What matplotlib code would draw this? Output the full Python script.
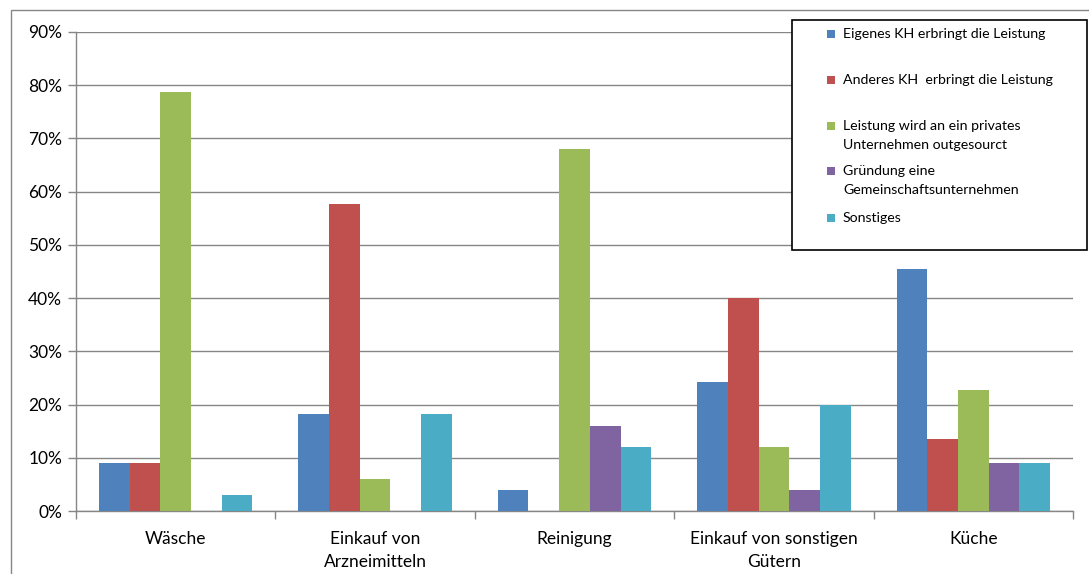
import matplotlib
matplotlib.use("Agg")
import matplotlib.pyplot as plt
from matplotlib.patches import Rectangle
import numpy as np

categories = ["Wäsche", "Einkauf von\nArzneimitteln", "Reinigung",
              "Einkauf von sonstigen\nGütern", "Küche"]
series_labels = [
    "Eigenes KH erbringt die Leistung",
    "Anderes KH  erbringt die Leistung",
    "Leistung wird an ein privates\nUnternehmen outgesourct",
    "Gründung eine\nGemeinschaftsunternehmen",
    "Sonstiges",
]
eigenes = [9.1, 18.2, 4.0, 24.2, 45.5]
anderes = [9.1, 57.6, 0.0, 40.0, 13.6]
privat = [78.8, 6.1, 68.0, 12.0, 22.7]
gemeinschaft = [0.0, 0.0, 16.0, 4.0, 9.1]
sonstiges = [3.0, 18.2, 12.0, 20.0, 9.1]
series_values = [eigenes, anderes, privat, gemeinschaft, sonstiges]
colors = ["#4F81BD", "#C0504D", "#9BBB59", "#8064A2", "#4BACC6"]
yticks = [0, 10, 20, 30, 40, 50, 60, 70, 80, 90]
ytick_labels = [f"{v}%" for v in yticks]

plt.rcParams["font.family"] = ["Lato", "DejaVu Sans"]

W, H = 1089, 574
fig = plt.figure(figsize=(W / 100, H / 100), dpi=100)

def fx(px):
    return px / W

def fy(py):
    return 1 - py / H

ax = fig.add_axes([fx(76), fy(511), fx(1073) - fx(76), fy(32) - fy(511)])

n_series = len(series_values)
bar_w = 1 / 6.5
x = np.arange(len(categories))
for i, (vals, col) in enumerate(zip(series_values, colors)):
    offs = (i - (n_series - 1) / 2) * bar_w
    ax.bar(x + offs, vals, width=bar_w, color=col, zorder=3)

grid_col = "#868686"
ax.set_xlim(-0.5, len(categories) - 0.5)
ax.set_ylim(0, 90)
ax.set_yticks(yticks)
ax.set_yticklabels(ytick_labels, fontsize=12.5, color="#000000")
ax.yaxis.grid(True, color=grid_col, linewidth=1.0, zorder=0)
ax.tick_params(axis="y", length=6, color=grid_col, width=1.0, pad=4)

ax.set_xticks(np.arange(-0.5, len(categories), 1.0))
ax.set_xticklabels([])
ax.tick_params(axis="x", length=6, color=grid_col, width=1.0)
for xi, lab in zip(x, categories):
    ax.text(xi, -3.7, lab, ha="center", va="top", fontsize=12.5,
            linespacing=1.6, transform=ax.transData)

for side in ["top", "right"]:
    ax.spines[side].set_visible(False)
for side in ["left", "bottom"]:
    ax.spines[side].set_color(grid_col)
    ax.spines[side].set_linewidth(1.0)

# outer chart frame
fig.patches.append(Rectangle((fx(11), fy(600)), fx(1100) - fx(11), fy(10) - fy(600),
                             transform=fig.transFigure, fill=False,
                             edgecolor=grid_col, linewidth=1.0))

# legend box
fig.patches.append(Rectangle((fx(792), fy(250)), fx(1087) - fx(792), fy(20) - fy(250),
                             transform=fig.transFigure, facecolor="white",
                             edgecolor="black", linewidth=1.2, zorder=5))
entry_y = [34, 80, 126, 171, 218]
for lab, col, ey in zip(series_labels, colors, entry_y):
    fig.patches.append(Rectangle((fx(827), fy(ey + 4)), fx(8), fx(8) * W / H,
                                 transform=fig.transFigure, facecolor=col,
                                 edgecolor="none", zorder=6))
    if "\n" in lab:
        fig.text(fx(843), fy(ey - 6), lab, ha="left", va="top", fontsize=10.2,
                 linespacing=1.72, zorder=7)
    else:
        fig.text(fx(843), fy(ey), lab, ha="left", va="center", fontsize=10.2,
                 zorder=7)

fig.savefig("out.png", dpi=100)
